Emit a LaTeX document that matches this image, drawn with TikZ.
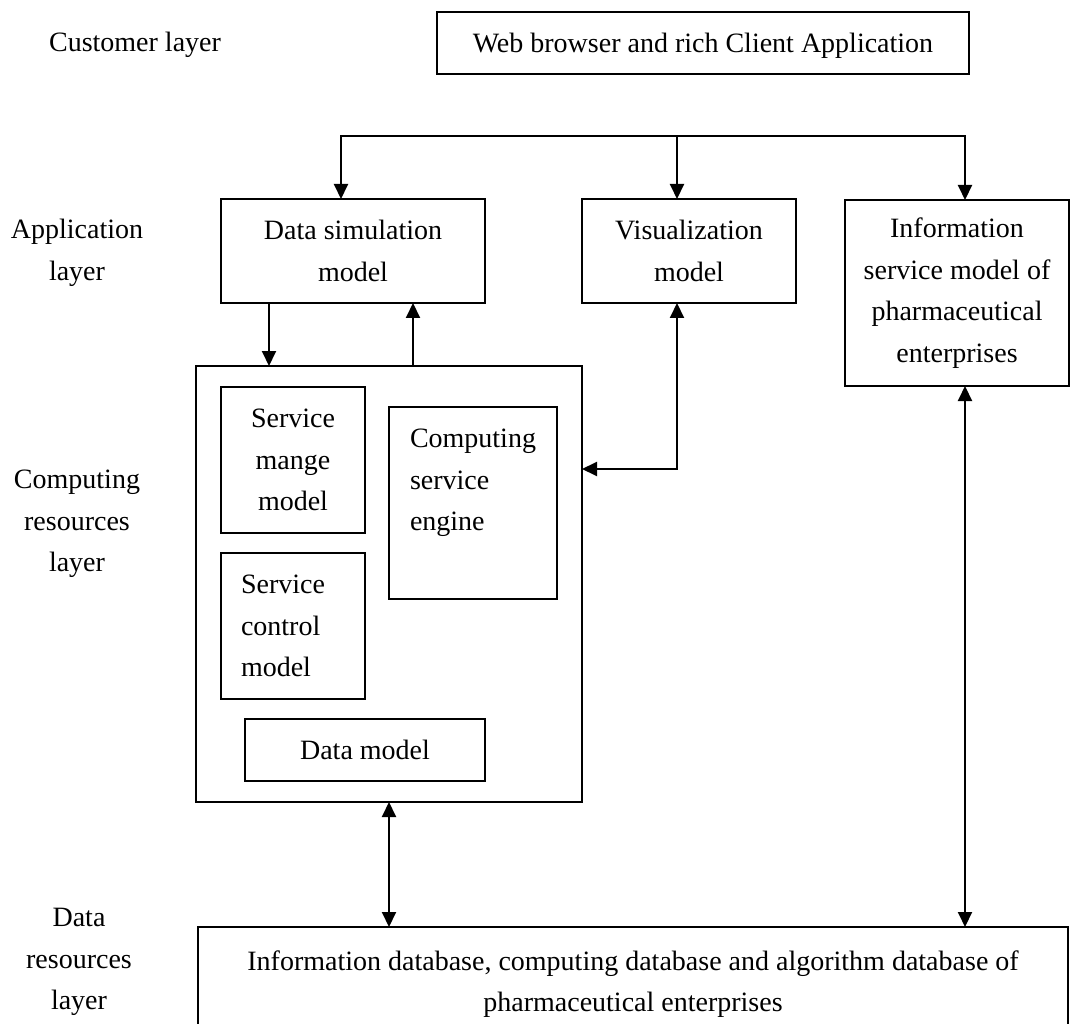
\documentclass[tikz,border=0pt]{standalone}
\usepackage{fontspec}
\setmainfont{Liberation Serif}
\usetikzlibrary{arrows.meta}
\begin{document}
\begin{tikzpicture}[x=1pt,y=-1pt, line width=2pt,
  box/.style={draw, rectangle, inner sep=0pt, outer sep=0pt, font=\fontsize{28}{41.5}\selectfont, align=center},
  lbl/.style={inner sep=0pt, font=\fontsize{28}{41.5}\selectfont, align=center},
  arr/.style={-{Triangle[length=15pt,width=14pt]}},
  darr/.style={{Triangle[length=15pt,width=14pt]}-{Triangle[length=15pt,width=14pt]}}]
\useasboundingbox (0,0) rectangle (1071,1024);

% labels
\node[lbl] (l1) at (135,45) {Customer layer};
\node[lbl] (l2) at (77,253) {Application\\layer};
\node[lbl] (l3) at (77,524) {Computing\\resources\\layer};
\node[lbl] (l4) at (79,962) {Data\\resources\\layer};

% boxes
\node[box, minimum width=532pt, minimum height=62pt] (web) at (703,43) {};
\node[lbl] (webt) at (703,46) {Web browser and rich Client Application};
\node[box, minimum width=264pt, minimum height=104pt] (dsm) at (353,251) {Data simulation\\model};
\node[box, minimum width=214pt, minimum height=104pt] (vis) at (689,251) {Visualization\\model};
\node[box, minimum width=224pt, minimum height=186pt] (info) at (957,293) {Information\\service model of\\pharmaceutical\\enterprises};
\node[box, minimum width=386pt, minimum height=436pt] (comp) at (389,584) {};
\node[box, minimum width=144pt, minimum height=146pt] (smm) at (293,460) {Service\\mange\\model};
\node[box, minimum width=144pt, minimum height=146pt, text width=104pt, align=left] (scm) at (293,626) {Service\\control\\model};
\node[box, minimum width=168pt, minimum height=192pt] (cse) at (473,503) {};
\node[lbl, align=left, anchor=west] (cset) at (409,483) {Computing\\service\\engine};
\node[box, minimum width=240pt, minimum height=62pt] (dm) at (365,750) {Data model};
\node[box, minimum width=870pt, minimum height=114pt] (db) at (633,984) {Information database, computing database and algorithm database of\\pharmaceutical enterprises};

% connectors
\coordinate (b1) at (341,136);
\coordinate (b2) at (677,136);
\coordinate (b3) at (965,136);
\draw[arr] (b2) -- (b1) -- (b1 |- dsm.north);
\draw[arr] (b2) -- (b3) -- (b3 |- info.north);
\draw[arr] (b2) -- (b2 |- vis.north);

\draw[arr] ([xshift=-84pt]dsm.south) -- ([xshift=-84pt]dsm.south |- comp.north);
\draw[arr] ([xshift=60pt]dsm.south |- comp.north) -- ([xshift=60pt]dsm.south);

\draw[darr] ([xshift=-12pt]vis.south) |- ([yshift=115pt]comp.east);
\draw[darr] (comp.south) -- (comp.south |- db.north);
\draw[darr] (b3 |- info.south) -- (b3 |- db.north);
\end{tikzpicture}
\end{document}
